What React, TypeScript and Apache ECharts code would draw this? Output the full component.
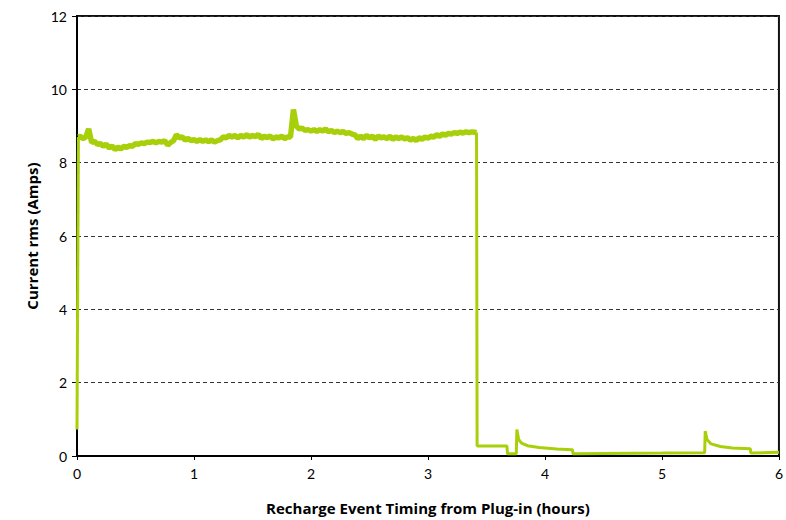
import React, { useEffect, useRef } from "react";
import * as echarts from "echarts";

// Start of trace (hours, amps)
const startPoints: [number, number][] = [
  [0.0, 0.72],
  [0.012, 8.7],
];

// High-current charging phase, sampled every 0.025 h from 0.025 h to 3.4 h
const sampleStep = 0.025;
const highValues: number[] = [
  8.72, 8.66, 8.7, 8.92, 8.55, 8.58, 8.5, 8.52,
  8.45, 8.5, 8.4, 8.45, 8.36, 8.42, 8.38, 8.44,
  8.42, 8.46, 8.45, 8.52, 8.5, 8.54, 8.52, 8.56,
  8.55, 8.58, 8.54, 8.58, 8.56, 8.6, 8.48, 8.55,
  8.6, 8.76, 8.68, 8.7, 8.62, 8.66, 8.6, 8.63,
  8.58, 8.63, 8.58, 8.62, 8.57, 8.62, 8.56, 8.6,
  8.62, 8.7, 8.68, 8.74, 8.7, 8.74, 8.68, 8.74,
  8.7, 8.76, 8.7, 8.74, 8.71, 8.77, 8.66, 8.72,
  8.68, 8.73, 8.65, 8.7, 8.68, 8.72, 8.66, 8.7,
  8.7, 9.45, 9.0, 8.92, 8.94, 8.88, 8.9, 8.86,
  8.9, 8.85, 8.9, 8.86, 8.92, 8.84, 8.88, 8.82,
  8.86, 8.82, 8.85, 8.8, 8.82, 8.78, 8.76, 8.66,
  8.72, 8.66, 8.74, 8.68, 8.72, 8.64, 8.72, 8.68,
  8.7, 8.66, 8.72, 8.64, 8.7, 8.66, 8.7, 8.65,
  8.68, 8.62, 8.66, 8.6, 8.68, 8.64, 8.7, 8.67,
  8.72, 8.7, 8.76, 8.72, 8.78, 8.75, 8.8, 8.78,
  8.82, 8.8, 8.83, 8.81, 8.84, 8.82, 8.84, 8.83,
];

// Low-current tail (hours, amps)
const tailPoints: [number, number][] = [
  [3.415, 8.82],
  [3.42, 0.27],
  [3.675, 0.27],
  [3.68, 0.06],
  [3.755, 0.06],
  [3.76, 0.72],
  [3.775, 0.45],
  [3.8, 0.35],
  [3.85, 0.28],
  [3.95, 0.23],
  [4.1, 0.19],
  [4.235, 0.17],
  [4.24, 0.06],
  [4.5, 0.07],
  [5.0, 0.08],
  [5.365, 0.09],
  [5.37, 0.68],
  [5.385, 0.45],
  [5.42, 0.33],
  [5.5, 0.26],
  [5.6, 0.22],
  [5.755, 0.2],
  [5.76, 0.08],
  [6.0, 0.1],
];

const xTicks = [0, 1, 2, 3, 4, 5, 6];
const yTicks = [0, 2, 4, 6, 8, 10, 12];

export default function App() {
  const ref = useRef<HTMLDivElement>(null);

  useEffect(() => {
    if (!ref.current) return;
    const chart = echarts.init(ref.current, undefined, { renderer: "svg" });
    const highData: [number, number][] = [
      startPoints[startPoints.length - 1],
      ...highValues.map((v, i) => [+(sampleStep * (i + 1)).toFixed(3), v] as [number, number]),
      tailPoints[0],
    ];
    const green = "#a8d00a";
    const tickFont = "Lato, 'DejaVu Sans', sans-serif";
    const nameFont = "'Open Sans', 'DejaVu Sans', sans-serif";
    chart.setOption({
      animation: false,
      backgroundColor: "#ffffff",
      grid: {
        left: 77,
        right: 3,
        top: 16,
        bottom: 62,
        show: true,
        borderColor: "#111",
        borderWidth: 2,
        backgroundColor: "transparent",
      },
      xAxis: {
        type: "value",
        min: xTicks[0],
        max: xTicks[xTicks.length - 1],
        interval: 1,
        name: "Recharge Event Timing from Plug-in (hours)",
        nameLocation: "middle",
        nameGap: 44,
        nameTextStyle: { fontFamily: nameFont, fontWeight: "bold", fontSize: 15, color: "#000" },
        axisLine: { show: true, lineStyle: { color: "#000", width: 2 } },
        axisTick: { show: true, length: 4, lineStyle: { color: "#000", width: 1 } },
        axisLabel: { fontFamily: tickFont, fontSize: 14, color: "#000", margin: 10 },
        splitLine: { show: false },
      },
      yAxis: {
        type: "value",
        min: yTicks[0],
        max: yTicks[yTicks.length - 1],
        interval: 2,
        name: "Current rms (Amps)",
        nameLocation: "middle",
        nameGap: 38,
        nameTextStyle: { fontFamily: nameFont, fontWeight: "bold", fontSize: 15, color: "#000" },
        axisLine: { show: true, lineStyle: { color: "#000", width: 2 } },
        axisTick: { show: true, length: 5, lineStyle: { color: "#000", width: 1 } },
        axisLabel: { fontFamily: tickFont, fontSize: 14, color: "#000", margin: 10 },
        splitLine: { show: true, lineStyle: { color: "#333", type: [4, 3], width: 1 } },
      },
      series: [
        {
          type: "line",
          data: startPoints,
          showSymbol: false,
          symbol: "none",
          lineStyle: { color: green, width: 3 },
          z: 3,
        },
        {
          type: "line",
          data: highData,
          showSymbol: false,
          symbol: "none",
          lineStyle: { color: green, width: 5.5 },
          z: 3,
        },
        {
          type: "line",
          data: tailPoints,
          showSymbol: false,
          symbol: "none",
          lineStyle: { color: green, width: 3 },
          z: 3,
        },
      ],
    });
    return () => chart.dispose();
  }, []);

  return (
    <div
      ref={ref}
      style={{ position: "fixed", left: 0, top: 0, width: 786, height: 520, background: "#fff" }}
    />
  );
}
